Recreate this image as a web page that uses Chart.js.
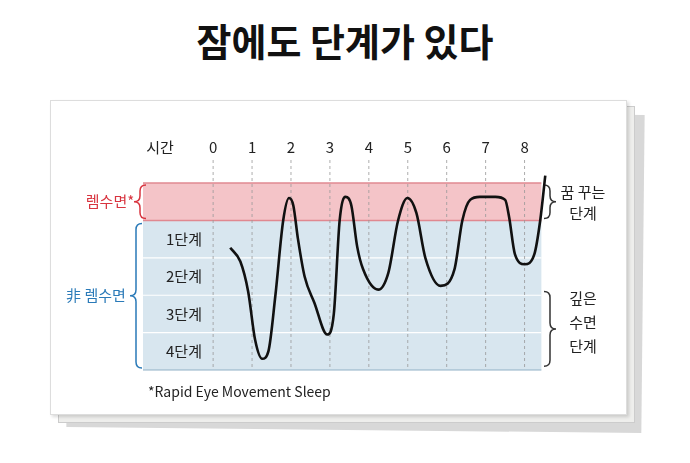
<!DOCTYPE html><html><head><meta charset="utf-8">
<script src="https://cdn.jsdelivr.net/npm/chart.js@4"></script>
<style>body{margin:0;background:#fff;width:690px;height:463px;overflow:hidden;position:relative;font-family:"Noto Sans CJK KR",sans-serif}
.s{position:absolute}
h1{position:absolute;left:0;top:12px;width:690px;margin:0;text-align:center;font-size:38px;font-weight:bold;color:#111;line-height:56px}
</style></head><body>
<h1>잠에도 단계가 있다</h1>
<div class="s" style="left:68px;top:112px;width:575px;height:318px;background:#d8d8d8;transform:rotate(0.6deg)"></div>
<div class="s" style="left:58px;top:106px;width:575px;height:315px;background:#eeeeec;border:1px solid #ccc"></div>
<div class="s" style="left:50px;top:100px;width:575px;height:313px;background:#fff;border:1px solid #ddd;box-shadow:2px 2px 3px rgba(0,0,0,0.15)"></div>
<canvas id="c" width="690" height="463" style="position:absolute;left:0;top:0"></canvas>
<script>
const hours=[0,1,2,3,4,5,6,7,8];
const stageLabels=['1단계','2단계','3단계','4단계'];
const curveHours=[0.44,0.7,0.9,1.08,1.26,1.42,1.6,1.8,1.95,2.06,2.18,2.35,2.6,2.93,3.1,3.25,3.4,3.55,3.7,3.85,4.24,4.5,4.75,4.99,5.22,5.45,5.84,6.2,6.4,6.6,6.85,7.25,7.5,7.6,7.75,8.0,8.25,8.4,8.53];
const curveDepth=[1.73,2.1,2.9,4.2,4.7,4.5,3.0,1.0,0.4,0.6,1.5,2.5,3.2,4.05,3.5,1.0,0.37,0.6,1.7,2.3,2.85,2.4,1.0,0.4,0.8,2.0,2.75,2.3,1.0,0.45,0.37,0.37,0.45,0.9,1.9,2.17,1.9,1.0,-0.2];
const pts=curveHours.map((h,i)=>({x:h,y:curveDepth[i]}));
function brace(ctx,x,y1,y2,dir,col){const m=(y1+y2)/2,w=6*dir;ctx.save();ctx.strokeStyle=col;ctx.lineWidth=1.5;ctx.beginPath();
ctx.moveTo(x+w,y1);ctx.quadraticCurveTo(x,y1,x,y1+6);ctx.lineTo(x,m-6);ctx.quadraticCurveTo(x,m,x-w,m);
ctx.quadraticCurveTo(x,m,x,m+6);ctx.lineTo(x,y2-6);ctx.quadraticCurveTo(x,y2,x+w,y2);ctx.stroke();ctx.restore();}
const deco={id:'deco',beforeDatasetsDraw(ch){const c=ch.ctx,X=ch.scales.x,Y=ch.scales.y;const L=X.getPixelForValue(-1.8),R=X.getPixelForValue(8.43);
c.save();c.fillStyle='#f4c4c8';c.fillRect(L,Y.getPixelForValue(0),R-L,Y.getPixelForValue(1)-Y.getPixelForValue(0));
c.fillStyle='#d8e6ef';c.fillRect(L,Y.getPixelForValue(1),R-L,Y.getPixelForValue(5)-Y.getPixelForValue(1));
c.strokeStyle='#e08890';c.lineWidth=1.5;[0,1].forEach(v=>{const y=Y.getPixelForValue(v);c.beginPath();c.moveTo(L,y);c.lineTo(R,y);c.stroke();});
c.strokeStyle='#fff';c.lineWidth=1.2;[2,3,4].forEach(v=>{const y=Y.getPixelForValue(v);c.beginPath();c.moveTo(L,y);c.lineTo(R,y);c.stroke();});
c.strokeStyle='#8fb0c6';c.beginPath();c.moveTo(L,Y.getPixelForValue(5));c.lineTo(R,Y.getPixelForValue(5));c.stroke();
c.strokeStyle='#999';c.lineWidth=0.8;c.setLineDash([3,3]);hours.forEach(h=>{const x=X.getPixelForValue(h);c.beginPath();c.moveTo(x,160);c.lineTo(x,Y.getPixelForValue(5));c.stroke();});c.setLineDash([]);
c.fillStyle='#222';c.font='15px "Noto Sans CJK KR"';c.textAlign='center';c.textBaseline='middle';
hours.forEach(h=>c.fillText(String(h),X.getPixelForValue(h),147));c.fillText('시간',160,147);
stageLabels.forEach((s,i)=>c.fillText(s,184,Y.getPixelForValue(i+1.5)));
c.fillStyle='#d8343f';c.fillText('렘수면*',110,Y.getPixelForValue(0.5));
c.fillStyle='#2a7ab8';c.fillText('非 렘수면',96,Y.getPixelForValue(3));
c.fillStyle='#222';c.fillText('꿈 꾸는',583,192);c.fillText('단계',583,213);
c.fillText('깊은',583,298);c.fillText('수면',583,322);c.fillText('단계',583,346);
c.textAlign='left';c.font='14px "Noto Sans CJK KR"';c.fillText('*Rapid Eye Movement Sleep',148,392);
c.restore();
brace(c,140,Y.getPixelForValue(0)+2,Y.getPixelForValue(1)-2,1,'#d8343f');
brace(c,136,Y.getPixelForValue(1)+3,Y.getPixelForValue(5)-2,1,'#2a7ab8');
brace(c,550,Y.getPixelForValue(0)+2,Y.getPixelForValue(1)-2,-1,'#333');
brace(c,550,Y.getPixelForValue(2.9),Y.getPixelForValue(4.9),-1,'#333');
}};
new Chart(document.getElementById('c'),{type:'line',data:{datasets:[{data:pts,borderColor:'#111',borderWidth:2.6,pointRadius:0,cubicInterpolationMode:'monotone',clip:false}]},
options:{responsive:false,animation:false,layout:{padding:{left:143,right:142,top:170,bottom:93}},
plugins:{legend:{display:false},tooltip:{enabled:false},title:{display:false}},
scales:{x:{type:'linear',min:-1.8,max:8.6,display:false},y:{min:-0.35,max:5,reverse:true,display:false}}},plugins:[deco]});
</script></body></html>
